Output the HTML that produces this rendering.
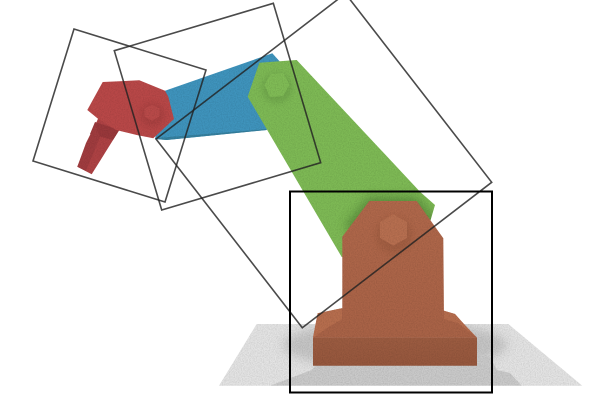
<!DOCTYPE html>
<html lang="en">
<head>
<meta charset="utf-8">
<title>Robot arm with bounding boxes</title>
<style>
html,body{margin:0;padding:0;background:#fff;width:589px;height:400px;overflow:hidden}
svg{display:block}
</style>
</head>
<body>
<svg width="589" height="400" viewBox="0 0 589 400" xmlns="http://www.w3.org/2000/svg">
  <defs>
    <filter id="blur3" x="-50%" y="-50%" width="200%" height="200%"><feGaussianBlur stdDeviation="3"/></filter>
    <filter id="blur5" x="-50%" y="-50%" width="200%" height="200%"><feGaussianBlur stdDeviation="5"/></filter>
    <filter id="grain" x="0" y="0" width="100%" height="100%" color-interpolation-filters="sRGB">
      <feTurbulence type="fractalNoise" baseFrequency="0.85" numOctaves="2" seed="4" result="n"/>
      <feColorMatrix in="n" type="matrix" values="0 0 0 0 0  0 0 0 0 0  0 0 0 0 0  0.22 0 0 0 -0.08" result="a"/>
      <feComposite in="a" in2="SourceAlpha" operator="in" result="g"/>
      <feMerge><feMergeNode in="SourceGraphic"/><feMergeNode in="g"/></feMerge>
    </filter>
    <linearGradient id="upright-shade" x1="0" y1="0" x2="0" y2="1">
      <stop offset="0" stop-color="#b0684b"/>
      <stop offset="1" stop-color="#aa6347"/>
    </linearGradient>
    <linearGradient id="front-shade" x1="0" y1="0" x2="0" y2="1">
      <stop offset="0" stop-color="#9c5c41"/>
      <stop offset="1" stop-color="#96573d"/>
    </linearGradient>
    <clipPath id="ground-clip"><polygon points="256.7,324 508.3,324 582.3,385.7 219,385.7"/></clipPath>
    <clipPath id="green-clip"><polygon points="259.3,62.7 296.7,60 420,191.7 435,205 430,222 341.7,257 247.7,96.7"/></clipPath>
    <clipPath id="upright-clip"><polygon points="342.3,236.7 369.3,201 416.7,201 443.3,238.3 444,320 342.3,320"/></clipPath>
    <clipPath id="red-clip"><polygon points="102.7,82 139.3,80.3 165,90.7 168.3,96.7 174,119 153.3,138.3 136.7,135 116,130 98.3,119 87.3,110"/></clipPath>
  </defs>

  <g filter="url(#grain)">
    <polygon points="256.7,324 508.3,324 582.3,385.7 219,385.7" fill="#e4e4e4"/>
    <g clip-path="url(#ground-clip)">
      <ellipse cx="395" cy="345" rx="112" ry="24" fill="#bdbdbd" opacity=".8" filter="url(#blur5)"/>
      <polygon points="270,385.7 311.7,370 320,360 477,355 490,357 497,370 510,373 521.7,385.7" fill="#cacaca"/>
    </g>
  </g>

  <g filter="url(#grain)">
    <polygon points="165,90.7 272.3,53.3 280,61.7 266.7,130 166.7,140 155,139" fill="#3f94bd"/>
    <polygon points="266.7,129 266.7,130 166.7,140 155,139 157,138" fill="#35809f"/>
  </g>

  <g filter="url(#grain)">
    <polygon points="98.3,118 119.3,130 91.7,174.3 77.3,166.7" fill="#ae4244"/>
    <polygon points="95,122 119.3,130 113,140 90,134" fill="#99383b"/>
    <polygon points="95,125 86,143 77.3,166.7 86,171 100,137" fill="#a03c3f"/>
    <polygon points="102.7,82 139.3,80.3 165,90.7 168.3,96.7 174,119 153.3,138.3 136.7,135 116,130 98.3,119 87.3,110" fill="#b94848"/>
    <g clip-path="url(#red-clip)">
      <circle cx="152" cy="115" r="12" fill="#8f3535" opacity=".35" filter="url(#blur3)"/>
    </g>
    <polygon points="152,104.7 159.5,108.5 159.5,116.5 152,120.7 144.5,116.5 144.5,108.5" fill="#b94a49"/>
  </g>

  <g filter="url(#grain)">
    <polygon points="259.3,62.7 296.7,60 420,191.7 435,205 430,222 341.7,257 247.7,96.7" fill="#7eba55"/>
    <g clip-path="url(#green-clip)">
      <circle cx="277" cy="88" r="15" fill="#5f8f40" opacity=".4" filter="url(#blur3)"/>
      <polygon points="345,225 369,197 417,197 440,225 420,240 360,245" fill="#4c7a33" opacity=".65" filter="url(#blur5)"/>
    </g>
    <polygon points="270.5,74 283.5,73 289.5,85 283,96 270,97 264.5,85" fill="#80bc56"/>
  </g>

  <g filter="url(#grain)">
    <polygon points="313,337.7 317.7,313.3 341.7,308.3 444,310.7 455,314 463,323 477,337.7" fill="#a9634a"/>
    <polygon points="313,337.7 317.7,313.3 341.7,308.3 342.3,320" fill="#b76e4e"/>
    <polygon points="444,310.7 455,314 463,323 477,337.7 444,320" fill="#b66d4e"/>
    <polygon points="342.3,236.7 369.3,201 416.7,201 443.3,238.3 444,320 342.3,320" fill="url(#upright-shade)"/>
    <polygon points="342.3,319 444,319 458,323 477,337.7 313,337.7 330,326" fill="#a96347"/>
    <g clip-path="url(#upright-clip)">
      <circle cx="394" cy="235" r="18" fill="#8a4f36" opacity=".32" filter="url(#blur3)"/>
    </g>
    <polygon points="313,337.7 477,337.7 477,365.7 313,365.7" fill="url(#front-shade)"/>
    <polygon points="393.3,214.3 407,222 407,238 393.3,245.5 380,238 380,222" fill="#b76f50"/>
  </g>

  <g fill="none" stroke-linejoin="miter">
    <polygon points="74,29 206,70 165,202 33,161" stroke="#222" stroke-opacity=".82" stroke-width="1.6"/>
    <polygon points="114.3,50.7 273.3,3.3 320.7,162.7 161.7,210" stroke="#222" stroke-opacity=".82" stroke-width="1.6"/>
    <polygon points="156,139 345.4,-6.4 491.7,182.3 302.3,327.7" stroke="#222" stroke-opacity=".82" stroke-width="1.6"/>
    <rect x="290" y="191.5" width="202" height="201" stroke="#000" stroke-width="2"/>
  </g>
</svg>
</body>
</html>
